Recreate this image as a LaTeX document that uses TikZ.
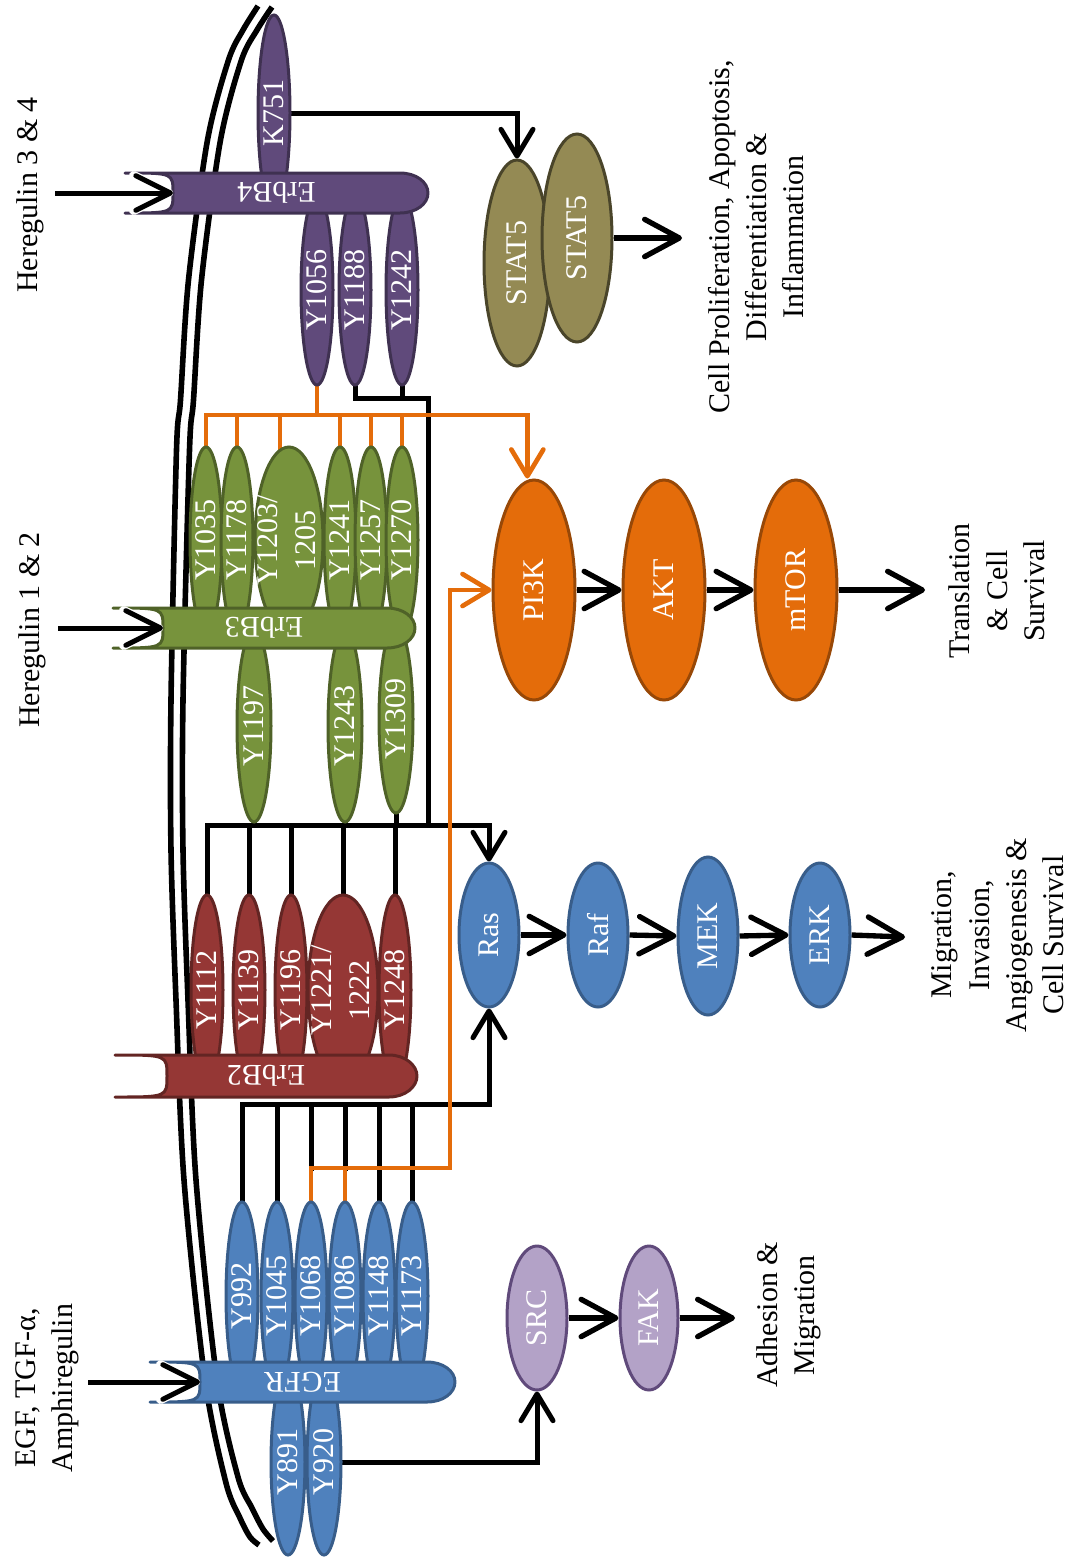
\documentclass[tikz,border=0pt]{standalone}
\usepackage{fontspec}
\setmainfont{Liberation Serif}
\usepackage{graphicx}
\usetikzlibrary{arrows.meta,shapes.geometric}
\definecolor{bF}{HTML}{4F81BD}\definecolor{bD}{HTML}{385D8A}
\definecolor{rF}{HTML}{953735}\definecolor{rD}{HTML}{632523}
\definecolor{gF}{HTML}{77933C}\definecolor{gD}{HTML}{4F6228}
\definecolor{pF}{HTML}{604A7B}\definecolor{pD}{HTML}{3F3151}
\definecolor{oF}{HTML}{948A54}\definecolor{oD}{HTML}{4A452A}
\definecolor{nF}{HTML}{E46C0A}\definecolor{nD}{HTML}{984807}
\definecolor{lF}{HTML}{B3A2C7}\definecolor{lD}{HTML}{604A7B}
\definecolor{orline}{HTML}{E46C0A}
\pgfdeclarelayer{membrane}\pgfdeclarelayer{background}
\pgfsetlayers{membrane,background,main}
\newcommand{\zbox}[1]{\vbox to 0pt{\vss\hbox to 0pt{\hss#1\hss}\vss}}
\newcommand{\vt}[1]{\zbox{\rotatebox{90}{#1}}}
\newcommand{\vtt}[2]{\zbox{\rotatebox{90}{\begin{tabular}{@{}c@{}}#1\\#2\end{tabular}}}}
\newcommand{\mkreceptor}[9]{%
  \filldraw[fill=#6, draw=#7, line width=2.25pt, line join=round]
   (#1,#3) -- ({#2-28},#3) .. controls ({#2-12},#3) and (#2,{(#3+#4)/2-11}) .. (#2,{(#3+#4)/2})
   .. controls (#2,{(#3+#4)/2+11}) and ({#2-12},#4) .. ({#2-28},#4) -- (#1,#4)
   .. controls ({#1+#5},#4) .. ({#1+#5},{(#3+#4)/2}) .. controls ({#1+#5},#3) .. (#1,#3) -- cycle;
  \coordinate (#8notch) at ({#1+#5},{(#3+#4)/2});
  \node[text=white, rotate=180] (#8) at ({(#1+#2)/2},{(#3+#4)/2}) {#9};
}
\tikzset{
  every node/.style={font=\fontsize{22.5pt}{28pt}\selectfont},
  ell/.style={ellipse, inner sep=0pt, line width=2.25pt, text=white},
  sz/.style 2 args={minimum width={1.5pt*#1}, minimum height={1.5pt*#2}},
  bluE/.style={ell, fill=bF, draw=bD},
  redE/.style={ell, fill=rF, draw=rD},
  grnE/.style={ell, fill=gF, draw=gD},
  purE/.style={ell, fill=pF, draw=pD},
  olvE/.style={ell, fill=oF, draw=oD},
  orgE/.style={ell, fill=nF, draw=nD},
  lilE/.style={ell, fill=lF, draw=lD},
  memline/.style={line width=4.2pt, line cap=butt},
  cline/.style={line width=3.75pt, line cap=rect, line join=miter},
  ocline/.style={line width=3.5pt, draw=orline, line cap=rect, line join=miter},
  arrS/.style={cline, -{Straight Barb[length=20pt,width=24pt,round]}},
  oarr/.style={ocline, -{Straight Barb[length=20pt,width=24pt,round]}},
  arrL/.style={line width=4pt, -{Straight Barb[length=26pt,width=28pt,round]}},
}
\begin{document}
\begin{tikzpicture}[x=0.75pt,y=-0.75pt]
\useasboundingbox (0,0) rectangle (1070,1564);
% membrane
\begin{pgfonlayer}{membrane}
\draw[memline] plot[smooth] coordinates {(258,6) (243,30) (228.5,60) (207.5,140) (188.5,280) (180.5,400) (176.5,450) (171,700) (171,850) (176,1000) (184,1180) (205,1380) (226,1483) (240,1518) (250,1537) (259,1545)};
\draw[memline] plot[smooth] coordinates {(272,7) (257,30) (241.5,60) (220.5,140) (201.5,280) (193.5,400) (189.5,450) (183,700) (183,850) (188,1000) (196,1180) (217,1380) (238,1477) (252,1508) (263,1529) (273,1541)};
\end{pgfonlayer}
% ErbB4 domains
\node[purE, sz={16}{98}] (k751) at (274,113) {\vt{K751}};
\node[purE, sz={16}{95}] (y1056) at (317,290) {\vt{Y1056}};
\node[purE, sz={16}{95}] (y1188) at (355,290) {\vt{Y1188}};
\node[purE, sz={16}{95}] (y1242) at (402,290) {\vt{Y1242}};
% ErbB3 domains
\node[grnE, sz={16}{93}] (y1035) at (206,540) {\vt{Y1035}};
\node[grnE, sz={16}{93}] (y1178) at (237,540) {\vt{Y1178}};
\node[grnE, sz={34}{93}] (y1203) at (289,540) {\vtt{Y1203/}{1205}};
\node[grnE, sz={16}{93}] (y1241) at (340,540) {\vt{Y1241}};
\node[grnE, sz={16}{93}] (y1257) at (371,540) {\vt{Y1257}};
\node[grnE, sz={16}{93}] (y1270) at (402,540) {\vt{Y1270}};
\node[grnE, sz={17}{96}] (y1197) at (254,726) {\vt{Y1197}};
\node[grnE, sz={17}{96}] (y1243) at (345,726) {\vt{Y1243}};
\node[grnE, sz={17}{94}] (y1309) at (396,719) {\vt{Y1309}};
% ErbB2 domains
\node[redE, sz={16}{95}] (y1112) at (207,990) {\vt{Y1112}};
\node[redE, sz={16}{95}] (y1139) at (249,990) {\vt{Y1139}};
\node[redE, sz={16}{95}] (y1196) at (291,990) {\vt{Y1196}};
\node[redE, sz={35}{95}] (y1221) at (343,990) {\vtt{Y1221/}{1222}};
\node[redE, sz={16}{95}] (y1248) at (395,990) {\vt{Y1248}};
% EGFR domains
\node[bluE, sz={16}{94}] (y992) at (242,1296) {\vt{Y992}};
\node[bluE, sz={16}{94}] (y1045) at (277,1296) {\vt{Y1045}};
\node[bluE, sz={16}{94}] (y1068) at (311,1296) {\vt{Y1068}};
\node[bluE, sz={16}{94}] (y1086) at (345,1296) {\vt{Y1086}};
\node[bluE, sz={16}{94}] (y1148) at (379,1296) {\vt{Y1148}};
\node[bluE, sz={16}{94}] (y1173) at (412,1296) {\vt{Y1173}};
\node[bluE, sz={17}{93}] (y891) at (288,1462) {\vt{Y891}};
\node[bluE, sz={17}{93}] (y920) at (324,1462) {\vt{Y920}};
% receptor bars
\mkreceptor{125}{428}{173}{213}{48}{pF}{pD}{erbb4}{ErbB4}
\mkreceptor{113}{415}{608}{648}{50}{gF}{gD}{erbb3}{ErbB3}
\mkreceptor{115}{417}{1055}{1097}{52}{rF}{rD}{erbb2}{ErbB2}
\mkreceptor{150}{455}{1362}{1402}{50}{bF}{bD}{egfr}{EGFR}
% downstream nodes
\node[olvE, sz={33}{103}] (stat5a) at (517,263) {\vt{STAT5}};
\node[olvE, sz={35}{104}] (stat5b) at (577,238) {\vt{STAT5}};
\node[orgE, sz={41}{110}] (pi3k) at (534,590) {\vt{PI3K}};
\node[orgE, sz={41}{110}] (akt) at (664,590) {\vt{AKT}};
\node[orgE, sz={41}{110}] (mtor) at (796,590) {\vt{mTOR}};
\node[bluE, sz={30}{72}] (ras) at (489,935) {\vt{Ras}};
\node[bluE, sz={30}{72}] (raf) at (598,935) {\vt{Raf}};
\node[bluE, sz={30}{79}] (mek) at (708,936) {\vt{MEK}};
\node[bluE, sz={30}{72}] (erk) at (820,935) {\vt{ERK}};
\node[lilE, sz={30}{72}] (src) at (537,1318) {\vt{SRC}};
\node[lilE, sz={29}{72}] (fak) at (649,1318) {\vt{FAK}};
% text labels
\node[rotate=90] (h34) at (30,195) {Heregulin 3 \& 4};
\node[rotate=90] (h12) at (32,630) {Heregulin 1 \& 2};
\node[rotate=90, align=center] (egf) at (47,1388) {EGF, TGF-α,\\Amphiregulin};
\node[rotate=90, align=center] (t1) at (756,237) {Cell Proliferation, Apoptosis,\\Differentiation \&\\Inflammation};
\node[rotate=90, align=center] (t2) at (997,591) {Translation\\\& Cell\\Survival};
\node[rotate=90, align=center] (t3) at (998,935) {Migration,\\Invasion,\\Angiogenesis \&\\Cell Survival};
\node[rotate=90, align=center] (t4) at (789,1315) {Adhesion \&\\Migration};
% coordinates
\coordinate (l4) at (55,193);
\coordinate (l3) at (58,628);
\coordinate (l1) at (88,1382);
\coordinate (o1) at (682,238);
\coordinate (o2) at (925,590);
\coordinate (o3) at (905,937);
\coordinate (o4) at (735,1318);
\coordinate (j4) at (428,398);
\coordinate (bb1e) at (428,825);
\coordinate (bb1w) at (207,825);
\coordinate (bb2w) at (242,1104);
\coordinate (ob1w) at (206,415);
\coordinate (ob2) at (0,1168);
\coordinate (ob2e) at (450,1168);
% ligand arrows
\foreach \s/\t in {l4/erbb4notch, l3/erbb3notch, l1/egfrnotch} {
  \draw[line width=7pt, white, -{Straight Barb[length=26pt,width=26pt,round]}] (\s) -- (\t);
  \draw[line width=3.75pt, -{Straight Barb[length=26pt,width=26pt,round]}] (\s) -- (\t);
}
\begin{pgfonlayer}{background}
% black connectors
\draw[arrS] (k751.east) -| (stat5a.north);
\draw[cline] (y1188.south) |- (j4) -- (bb1e);
\draw[cline] (y1242.south) -- (y1242.south |- j4);
\draw[arrS] (bb1w) -| (ras.north);
\foreach \n in {y1197,y1243,y1309} \draw[cline] (\n.south) -- (\n.south |- bb1w);
\foreach \n in {y1112,y1139,y1196,y1221,y1248} \draw[cline] (\n.north |- bb1w) -- (\n.north);
\draw[arrS] (bb2w) -| (ras.south);
\foreach \n in {y992,y1045,y1148,y1173} \draw[cline] (\n.north |- bb2w) -- (\n.north);
\draw[cline] (y1068.north |- bb2w) -- (y1068.north |- ob2);
\draw[cline] (y1086.north |- bb2w) -- (y1086.north |- ob2);
\draw[arrS] (y920.east) -| (src.south);
% orange connectors
\draw[oarr] (ob1w) -| ([xshift=-5pt]pi3k.north);
\draw[ocline] (y1056.south) -- (y1056.south |- ob1w);
\foreach \n in {y1035,y1178,y1241,y1257,y1270} \draw[ocline] (\n.north |- ob1w) -- (\n.north);
\draw[ocline] ([xshift=-6.75pt]y1203.north |- ob1w) -- ([xshift=-6.75pt,yshift=-6pt]y1203.north);
\draw[ocline] (y1068.north |- ob2) -- (y1068.north);
\draw[ocline] (y1086.north |- ob2) -- (y1086.north);
\draw[oarr] (y1068.north |- ob2) -- (ob2e) |- (pi3k.west);
% pathway arrows
\draw[arrL] (stat5b.east) -- (o1);
\draw[arrL] (pi3k.east) -- (akt.west);
\draw[arrL] (akt.east) -- (mtor.west);
\draw[arrL] (mtor.east) -- (o2);
\draw[arrL] (ras.east) -- (raf.west);
\draw[arrL] (raf.east) -- (mek.west);
\draw[arrL] (mek.east) -- (erk.west);
\draw[arrL] (erk.east) -- (o3);
\draw[arrL] (src.east) -- (fak.west);
\draw[arrL] (fak.east) -- (o4);
\end{pgfonlayer}
\end{tikzpicture}
\end{document}
